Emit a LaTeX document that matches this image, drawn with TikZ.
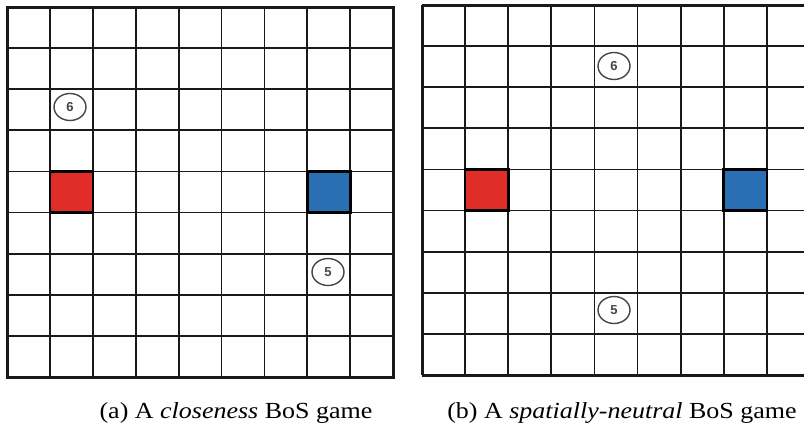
\documentclass[tikz,border=0pt]{standalone}
\usepackage{fontspec}
\setmainfont{Liberation Serif}
\newfontfamily\numfont{Liberation Sans}
\usetikzlibrary{shapes.geometric}
\definecolor{redsq}{RGB}{224,45,40}
\definecolor{bluesq}{RGB}{42,110,180}
\definecolor{gridc}{RGB}{25,25,25}
\definecolor{circc}{RGB}{70,70,70}
\begin{document}
\begin{tikzpicture}[x=1pt,y=-1pt,
  gridline/.style={draw=gridc,line width=1.8pt},
  frame/.style={draw=gridc,line width=3pt},
  sqbox/.style={draw=black,line width=2.6pt},
  payoff/.style={ellipse,draw=circc,line width=1.4pt,minimum width=32pt,minimum height=27pt,inner sep=0pt,
    font=\numfont\bfseries\fontsize{13}{13}\selectfont,text=circc},
  caption/.style={anchor=base,inner sep=0pt,font=\fontsize{23}{28}\selectfont}]
\useasboundingbox (0,0) rectangle (804,429);
\clip (0,0) rectangle (804,429);
\fill[white] (0,0) rectangle (804,429);
% ---- left grid (a)
\foreach \i in {1,...,8} {
  \draw[gridline] ({7+\i*42.9},7) -- ({7+\i*42.9},377);
  \draw[gridline] (7,{7+\i*41.11}) -- (393,{7+\i*41.11});
}
\draw[sqbox,fill=redsq] (49.9,171.4) rectangle (92.8,212.5);
\draw[sqbox,fill=bluesq] (307.3,171.4) rectangle (350.2,212.5);
\draw[frame] (7,7) rectangle (393,377);
\node[payoff] (a6) at (70,107) {6};
\node[payoff] (a5) at (328,272) {5};
% ---- right grid (b)
\foreach \i in {1,...,9} {
  \draw[gridline] ({422+\i*43.1},5) -- ({422+\i*43.1},375);
}
\foreach \i in {1,...,8} {
  \draw[gridline] (422,{5+\i*41.11}) -- (830,{5+\i*41.11});
}
\draw[sqbox,fill=redsq] (465.1,169.4) rectangle (508.2,210.5);
\draw[sqbox,fill=bluesq] (723.7,169.4) rectangle (766.8,210.5);
\draw[frame] (422,5) -- (830,5);
\draw[frame] (422,375) -- (830,375);
\draw[frame] (422,5) -- (422,375);
\node[payoff] (b6) at (614,66) {6};
\node[payoff] (b5) at (614,310) {5};
% ---- captions
\node[caption] (capa) at (236,418) {\scalebox{1.13}[1]{(a) A \textit{closeness} BoS game}};
\node[caption] (capb) at (622,418) {\scalebox{1.13}[1]{(b) A \textit{spatially-neutral} BoS game}};
\end{tikzpicture}
\end{document}
